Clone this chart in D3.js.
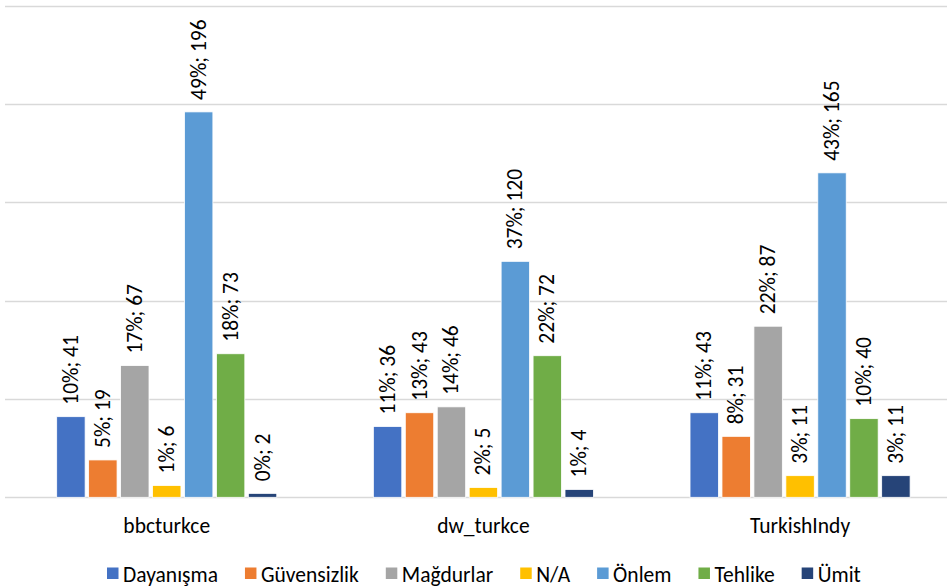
<!DOCTYPE html>
<html>
<head>
<meta charset="utf-8">
<script src="https://cdn.jsdelivr.net/npm/d3@7"></script>
<style>
  html, body { margin: 0; padding: 0; background: #fff; }
  svg { display: block; }
  text { font-family: Carlito, "Open Sans", "Liberation Sans", sans-serif; fill: #000; }
</style>
</head>
<body>
<svg id="chart" width="947" height="586"></svg>
<script>
// ---- data ----
const categories = ["bbcturkce", "dw_turkce", "TurkishIndy"];
const seriesNames = ["Dayanışma", "Güvensizlik", "Mağdurlar", "N/A", "Önlem", "Tehlike", "Ümit"];
const seriesColors = ["#4472C4", "#ED7D31", "#A5A5A5", "#FFC000", "#5B9BD5", "#70AD47", "#264478"];
const bbcturkceValues   = [41, 19, 67, 6, 196, 73, 2];
const bbcturkcePct      = [10, 5, 17, 1, 49, 18, 0];
const dwTurkceValues    = [36, 43, 46, 5, 120, 72, 4];
const dwTurkcePct       = [11, 13, 14, 2, 37, 22, 1];
const turkishIndyValues = [43, 31, 87, 11, 165, 40, 11];
const turkishIndyPct    = [11, 8, 22, 3, 43, 10, 3];
const yTicks = [0, 50, 100, 150, 200, 250];

const valuesByCat = [bbcturkceValues, dwTurkceValues, turkishIndyValues];
const pctByCat = [bbcturkcePct, dwTurkcePct, turkishIndyPct];

const rows = [];
categories.forEach((c, ci) => {
  seriesNames.forEach((s, si) => {
    rows.push({ cat: c, series: s, si, value: valuesByCat[ci][si], pct: pctByCat[ci][si] });
  });
});

// ---- layout ----
const FS = 21.5;
const svg = d3.select("#chart");
const baseY = 497.3, topY = 5.7;
const y = d3.scaleLinear().domain([0, 250]).range([baseY, topY]);
const x0 = d3.scaleBand().domain(categories).range([8.4, 958.4])
  .paddingInner(0.305).paddingOuter(0.1525);
const x1 = d3.scaleBand().domain(seriesNames).range([0, x0.bandwidth()])
  .paddingInner(0.11).paddingOuter(0);
const color = d3.scaleOrdinal().domain(seriesNames).range(seriesColors);

// gridlines
svg.append("g").selectAll("line").data(yTicks).join("line")
  .attr("x1", 5).attr("x2", 947)
  .attr("y1", d => Math.round(y(d)) + 0.5).attr("y2", d => Math.round(y(d)) + 0.5)
  .attr("stroke", "#d9d9d9").attr("stroke-width", 1.3);

// bars
const g = svg.append("g");
g.selectAll("rect").data(rows).join("rect")
  .attr("x", d => x0(d.cat) + x1(d.series))
  .attr("y", d => y(d.value))
  .attr("width", x1.bandwidth())
  .attr("height", d => baseY - y(d.value))
  .attr("fill", d => color(d.series))
  .attr("stroke", "#ffffff").attr("stroke-width", 0.8);

// data labels
g.selectAll("text.lbl").data(rows).join("text")
  .attr("class", "lbl")
  .attr("transform", d => `translate(${x0(d.cat) + x1(d.series) + x1.bandwidth() / 2},${y(d.value) - 12}) rotate(-90)`)
  .attr("text-anchor", "start")
  .attr("dominant-baseline", "central")
  .style("font-size", FS + "px")
  .text(d => `${d.pct}%; ${d.value}`);

// category axis labels
const xAxis = d3.axisBottom(x0).tickSize(0).tickPadding(0);
const ax = svg.append("g").attr("transform", `translate(0,${baseY})`).call(xAxis);
ax.select(".domain").remove();
ax.selectAll("text")
  .attr("y", 36)
  .attr("dy", 0)
  .style("font-size", FS + "px")
  .style("font-family", "Carlito, 'Open Sans', 'Liberation Sans', sans-serif")
  .attr("fill", "#000");

// legend
const legend = svg.append("g").attr("transform", "translate(107,0)");
let lx = 0;
seriesNames.forEach((s, i) => {
  const item = legend.append("g").attr("transform", `translate(${lx},0)`);
  item.append("rect").attr("x", 0).attr("y", 567.5).attr("width", 11.5).attr("height", 11.5)
    .attr("fill", seriesColors[i]);
  const t = item.append("text").attr("x", 16).attr("y", 581.5)
    .style("font-size", FS + "px").text(s);
  const w = t.node().getComputedTextLength();
  lx += 16 + w + 27;
});
</script>
</body>
</html>
